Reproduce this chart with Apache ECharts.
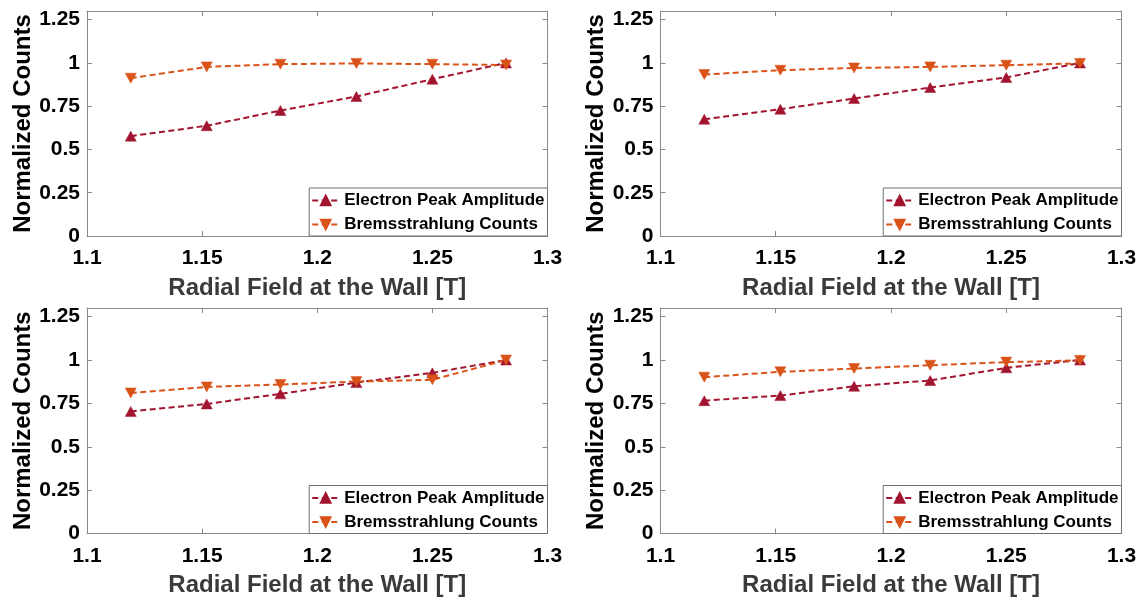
<!DOCTYPE html>
<html>
<head>
<meta charset="utf-8">
<title>Normalized Counts vs Radial Field</title>
<script src="https://cdn.jsdelivr.net/npm/echarts@6/dist/echarts.min.js"></script>
<style>
  html, body { margin: 0; padding: 0; background: #fff; }
  #chart { width: 1143px; height: 601px; }
</style>
</head>
<body>
<div id="chart"></div>
<script>
// Radial field at the wall [T] for each measurement
const fieldValues = [1.119, 1.152, 1.184, 1.217, 1.25, 1.282];

// Normalized counts, one pair of series per panel (top-left, top-right, bottom-left, bottom-right)
const electronPanel1 = [0.577, 0.637, 0.725, 0.806, 0.906, 1.0];
const bremsPanel1    = [0.912, 0.977, 0.993, 0.997, 0.993, 0.988];
const electronPanel2 = [0.675, 0.733, 0.794, 0.858, 0.916, 1.0];
const bremsPanel2    = [0.933, 0.958, 0.971, 0.977, 0.987, 0.997];
const electronPanel3 = [0.704, 0.747, 0.805, 0.870, 0.926, 1.0];
const bremsPanel3    = [0.810, 0.845, 0.859, 0.876, 0.886, 1.0];
const electronPanel4 = [0.766, 0.795, 0.849, 0.882, 0.955, 1.0];
const bremsPanel4    = [0.901, 0.932, 0.951, 0.970, 0.988, 0.998];

const seriesNames = ['Electron Peak Amplitude', 'Bremsstrahlung Counts'];
const xTickValues = [1.1, 1.15, 1.2, 1.25, 1.3];
const yTickValues = [0, 0.25, 0.5, 0.75, 1, 1.25];
const xAxisTitle = 'Radial Field at the Wall [T]';
const yAxisTitle = 'Normalized Counts';

const panels = [
  { electron: electronPanel1, brems: bremsPanel1 },
  { electron: electronPanel2, brems: bremsPanel2 },
  { electron: electronPanel3, brems: bremsPanel3 },
  { electron: electronPanel4, brems: bremsPanel4 }
];

const FONT = '"Liberation Sans", Arial, Helvetica, sans-serif';
const ELECTRON_COLOR = '#A2142F';
const BREMS_COLOR = '#D95319';
const AXIS_COLOR = '#8a8a8a';

const W = 1143, H = 601;
const layout = [
  { left: 87,    top: 11,  width: 460.5, height: 225 },
  { left: 660.5, top: 11,  width: 461,   height: 225 },
  { left: 87,    top: 308, width: 460.5, height: 225.5 },
  { left: 660.5, top: 308, width: 461,   height: 225.5 }
];

const fmt = v => String(+(+v).toFixed(2));

const grid = [], xAxis = [], yAxis = [], series = [], legend = [];

layout.forEach((g, i) => {
  grid.push({ left: g.left, top: g.top, width: g.width, height: g.height, containLabel: false });

  const boxLine = { show: true, onZero: false, lineStyle: { color: AXIS_COLOR, width: 1 } };
  const innerTick = { show: true, inside: true, length: 5, lineStyle: { color: AXIS_COLOR, width: 1 } };

  // bottom x axis with labels and title
  xAxis.push({
    type: 'value', gridIndex: i, position: 'bottom',
    min: xTickValues[0], max: xTickValues[xTickValues.length - 1], interval: 0.05,
    axisLine: boxLine, axisTick: innerTick, splitLine: { show: false },
    axisLabel: { show: true, margin: 12, color: '#000', fontFamily: FONT, fontWeight: 'bold', fontSize: 21, formatter: fmt },
    name: xAxisTitle, nameLocation: 'middle', nameGap: 40,
    nameTextStyle: { color: '#3a3a3a', fontFamily: FONT, fontWeight: 'bold', fontSize: 24 }
  });
  // top x axis mirrors ticks only
  xAxis.push({
    type: 'value', gridIndex: i, position: 'top',
    min: xTickValues[0], max: xTickValues[xTickValues.length - 1], interval: 0.05,
    axisLine: boxLine, axisTick: innerTick, splitLine: { show: false },
    axisLabel: { show: false }
  });
  // left y axis
  yAxis.push({
    type: 'value', gridIndex: i, position: 'left',
    min: 0, max: 1.3, interval: 0.25,
    axisLine: boxLine, axisTick: innerTick, splitLine: { show: false },
    axisLabel: {
      show: true, margin: 7, color: '#000', fontFamily: FONT, fontWeight: 'bold', fontSize: 21,
      formatter: v => (yTickValues.some(t => Math.abs(t - v) < 1e-9) ? fmt(v) : '')
    },
    name: yAxisTitle, nameLocation: 'middle', nameGap: 50,
    nameTextStyle: { color: '#000', fontFamily: FONT, fontWeight: 'bold', fontSize: 24 }
  });
  // right y axis mirrors ticks only
  yAxis.push({
    type: 'value', gridIndex: i, position: 'right',
    min: 0, max: 1.3, interval: 0.25,
    axisLine: boxLine, axisTick: innerTick, splitLine: { show: false },
    axisLabel: { show: false }
  });

  const p = panels[i];
  const mk = (name, vals, color, rotate) => ({
    type: 'line', name: name,
    xAxisIndex: i * 2, yAxisIndex: i * 2,
    data: fieldValues.map((x, k) => [x, vals[k]]),
    symbol: 'triangle', symbolSize: [11, 10], symbolRotate: rotate,
    showSymbol: true,
    lineStyle: { color: color, width: 2, type: [6, 3.5] },
    itemStyle: { color: color, borderColor: color, borderWidth: 0.5 },
    emphasis: { disabled: true },
    animation: false, z: 3
  });
  series.push(mk(seriesNames[0], p.electron, ELECTRON_COLOR, 0));
  series.push(mk(seriesNames[1], p.brems, BREMS_COLOR, 180));

  legend.push({
    show: true, orient: 'vertical',
    right: W - (g.left + g.width), bottom: H - (g.top + g.height),
    data: seriesNames,
    itemWidth: 27, itemHeight: 12, itemGap: 7,
    padding: [4, 3, 3, 2],
    backgroundColor: '#fff', borderColor: '#707070', borderWidth: 1,
    selectedMode: false,
    textStyle: { color: '#000', fontFamily: FONT, fontWeight: 'bold', fontSize: 17 },
    iconRotate: 'inherit'
  });
});

const chart = echarts.init(document.getElementById('chart'), null, { renderer: 'canvas' });
chart.setOption({
  backgroundColor: '#fff',
  animation: false,
  grid, xAxis, yAxis, series, legend
});
</script>
</body>
</html>
